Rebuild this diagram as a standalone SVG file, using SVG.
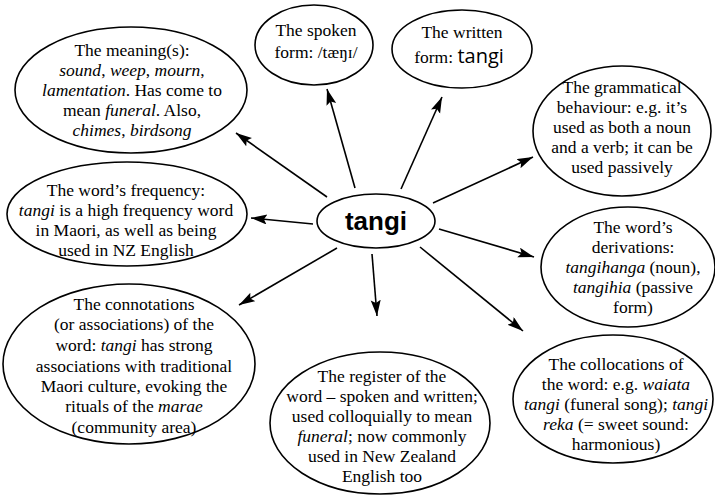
<svg xmlns="http://www.w3.org/2000/svg" width="715" height="495" viewBox="0 0 715 495">
<style>
.n ellipse{fill:#fff;stroke:#000;stroke-width:1.6}
.t{font-family:"Liberation Serif","Times New Roman",serif;font-size:17.5px;fill:#000;text-anchor:middle}
.i{font-style:italic}
.c line{stroke:#000;stroke-width:1.6}
</style>
<defs>
<marker id="ah" markerUnits="userSpaceOnUse" markerWidth="18" markerHeight="12" refX="16" refY="5" orient="auto">
<path d="M0,0 L16,5 L0,10 L3,5 Z" fill="#000"/>
</marker>
</defs>
<rect width="715" height="495" fill="#fff"/>
<g class="c" id="connectors">
<line x1="327" y1="197" x2="236" y2="133" marker-end="url(#ah)"/>
<line x1="355" y1="188" x2="327" y2="89" marker-end="url(#ah)"/>
<line x1="401" y1="189" x2="442" y2="97" marker-end="url(#ah)"/>
<line x1="433" y1="203" x2="533" y2="157" marker-end="url(#ah)"/>
<line x1="313" y1="224" x2="251" y2="218" marker-end="url(#ah)"/>
<line x1="439" y1="229" x2="534" y2="257" marker-end="url(#ah)"/>
<line x1="337" y1="248" x2="239" y2="305" marker-end="url(#ah)"/>
<line x1="372" y1="254" x2="377" y2="316" marker-end="url(#ah)"/>
<line x1="420" y1="247" x2="523" y2="331" marker-end="url(#ah)"/>
</g>
<g class="n" id="center">
<ellipse cx="376" cy="221" rx="59" ry="27"/>
<text x="376" y="230" style="font-family:'Liberation Sans',Arial,sans-serif;font-weight:bold;font-size:26px;text-anchor:middle">tangi</text>
</g>
<g class="n" id="meaning">
<ellipse cx="131" cy="90" rx="116" ry="63"/>
<text class="t" x="132" y="56">The meaning(s):</text>
<text class="t" x="132" y="76"><tspan class="i">sound</tspan>, <tspan class="i">weep</tspan>, <tspan class="i">mourn</tspan>,</text>
<text class="t" x="132" y="96"><tspan class="i">lamentation</tspan>. Has come to</text>
<text class="t" x="132" y="116">mean <tspan class="i">funeral</tspan>. Also,</text>
<text class="t" x="132" y="136"><tspan class="i">chimes</tspan>, <tspan class="i">birdsong</tspan></text>
</g>
<g class="n" id="spoken">
<ellipse cx="314" cy="45" rx="59" ry="40"/>
<text class="t" x="316" y="36">The spoken</text>
<text class="t" x="316" y="58">form: /tæŋɪ/</text>
</g>
<g class="n" id="written">
<ellipse cx="462" cy="49" rx="70" ry="39"/>
<text class="t" x="462" y="38">The written</text>
<text class="t" x="459" y="63">form: <tspan style="font-family:'Open Sans','DejaVu Sans',sans-serif;font-weight:400;font-size:20px">tangi</tspan></text>
</g>
<g class="n" id="grammatical">
<ellipse cx="622" cy="131" rx="89" ry="65"/>
<text class="t" x="622" y="93">The grammatical</text>
<text class="t" x="622" y="113">behaviour: e.g. it’s</text>
<text class="t" x="622" y="133">used as both a noun</text>
<text class="t" x="622" y="153">and a verb; it can be</text>
<text class="t" x="622" y="173">used passively</text>
</g>
<g class="n" id="frequency">
<ellipse cx="127" cy="214" rx="120" ry="52"/>
<text class="t" x="126" y="196">The word’s frequency:</text>
<text class="t" x="126" y="216"><tspan class="i">tangi</tspan> is a high frequency word</text>
<text class="t" x="126" y="236">in Maori, as well as being</text>
<text class="t" x="126" y="256">used in NZ English</text>
</g>
<g class="n" id="derivations">
<ellipse cx="628" cy="267" rx="87" ry="60"/>
<text class="t" x="633" y="233">The word’s</text>
<text class="t" x="633" y="253">derivations:</text>
<text class="t" x="633" y="273"><tspan class="i">tangihanga</tspan> (noun),</text>
<text class="t" x="633" y="293"><tspan class="i">tangihia</tspan> (passive</text>
<text class="t" x="633" y="313">form)</text>
</g>
<g class="n" id="connotations">
<ellipse cx="129" cy="364" rx="126" ry="80"/>
<text class="t" x="134" y="310">The connotations</text>
<text class="t" x="134" y="330">(or associations) of the</text>
<text class="t" x="134" y="351">word: <tspan class="i">tangi</tspan> has strong</text>
<text class="t" x="134" y="372">associations with traditional</text>
<text class="t" x="134" y="392">Maori culture, evoking the</text>
<text class="t" x="134" y="412">rituals of the <tspan class="i">marae</tspan></text>
<text class="t" x="134" y="433">(community area)</text>
</g>
<g class="n" id="register">
<ellipse cx="380" cy="423" rx="110" ry="71"/>
<text class="t" x="382" y="382">The register of the</text>
<text class="t" x="382" y="402">word – spoken and written;</text>
<text class="t" x="382" y="422">used colloquially to mean</text>
<text class="t" x="382" y="442"><tspan class="i">funeral</tspan>; now commonly</text>
<text class="t" x="382" y="462">used in New Zealand</text>
<text class="t" x="382" y="482">English too</text>
</g>
<g class="n" id="collocations">
<ellipse cx="613" cy="399" rx="100" ry="64"/>
<text class="t" x="616" y="370">The collocations of</text>
<text class="t" x="616" y="390">the word: e.g. <tspan class="i">waiata</tspan></text>
<text class="t" x="616" y="410"><tspan class="i">tangi</tspan> (funeral song); <tspan class="i">tangi</tspan></text>
<text class="t" x="616" y="430"><tspan class="i">reka</tspan> (= sweet sound:</text>
<text class="t" x="616" y="450">harmonious)</text>
</g>
</svg>
